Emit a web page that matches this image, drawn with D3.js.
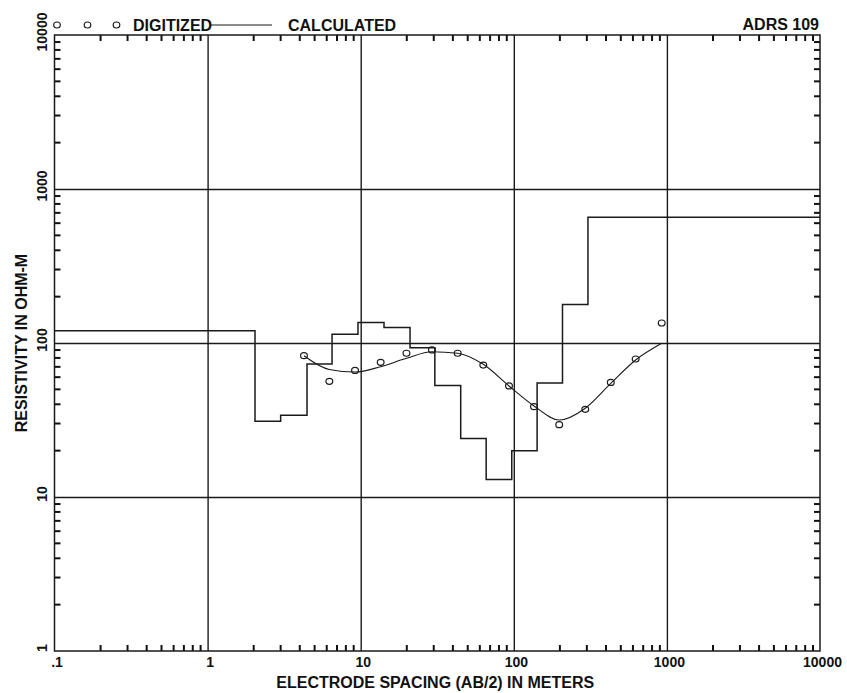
<!DOCTYPE html>
<html>
<head>
<meta charset="utf-8">
<script src="https://cdn.jsdelivr.net/npm/d3@7"></script>
<style>
  html, body { margin: 0; padding: 0; background: #fff; }
  svg { display: block; }
  text { font-family: "Liberation Sans", Arial, sans-serif; font-weight: bold; fill: #111; }
</style>
</head>
<body>
<svg id="chart" width="847" height="693"></svg>
<script>
// ---- Data ----
const xMajorTicks = [0.1, 1, 10, 100, 1000, 10000];
const xTickLabels = [".1", "1", "10", "100", "1000", "10000"];
const yMajorTicks = [1, 10, 100, 1000, 10000];
const yTickLabels = ["1", "10", "100", "1000", "10000"];
const minorMultipliers = [2, 3, 4, 5, 6, 7, 8, 9];

// layered model (step curve): layer boundaries (AB/2, m) and layer resistivities (ohm-m)
const layerBounds = [2.04, 3.0, 4.46, 6.5, 9.6, 14.2, 21, 30.5, 45, 66, 97, 142, 208, 305];
const layerRes = [120, 31, 34, 73, 114, 136, 126, 93, 53, 24, 13, 20, 55, 178, 655];

// sounding data
const spacing = [4.26, 6.24, 9.18, 13.5, 19.9, 29.2, 43.0, 63.2, 93.0, 135.5, 198, 293, 430, 625, 925];
const digitized = [82.7, 56.4, 66.4, 74.9, 85.8, 90.1, 85.8, 71.9, 52.6, 38.6, 29.5, 37.1, 55.5, 78.7, 134.9];
const calculated = [82.7, 67.3, 64.8, 70.2, 79.6, 87.8, 85.8, 72.7, 52.6, 39.0, 31.6, 37.7, 54.7, 77.6, 99.6];

const legendLabels = ["DIGITIZED", "CALCULATED"];
const titleText = "ADRS 109";
const xTitle = "ELECTRODE SPACING (AB/2) IN METERS";
const yTitle = "RESISTIVITY IN OHM-M";

// ---- Layout ----
const L = 54.5, R = 820, T = 35, B = 651;
const INK = "#1a1a1a";
const svg = d3.select("#chart");

const x = d3.scaleLog().domain([0.1, 10000]).range([L, R]);
const y = d3.scaleLog().domain([1, 10000]).range([B, T]);

const xMinor = [];
xMajorTicks.slice(0, -1).forEach(d => minorMultipliers.forEach(m => xMinor.push(d * m)));
const yMinor = [];
yMajorTicks.slice(0, -1).forEach(d => minorMultipliers.forEach(m => yMinor.push(d * m)));

function styleAxis(g) {
  g.select(".domain").remove();
  g.selectAll(".tick line").attr("stroke", INK).attr("stroke-width", 1.4);
  g.selectAll(".tick text").remove();
}

// gridlines (major)
svg.append("g").attr("transform", `translate(0,${B})`)
  .call(d3.axisBottom(x).tickValues(xMajorTicks.slice(1, -1)).tickSize(-(B - T)))
  .call(styleAxis);
svg.append("g").attr("transform", `translate(${L},0)`)
  .call(d3.axisLeft(y).tickValues(yMajorTicks.slice(1, -1)).tickSize(-(R - L)))
  .call(styleAxis);

// minor ticks, inward on all sides
const TK = 6;
const minorG = svg.append("g");
function addMinor(cls, data, fn) {
  minorG.selectAll("line." + cls).data(data).join("line").attr("class", cls)
    .each(function (d) {
      const c = fn(d);
      d3.select(this).attr("x1", c[0]).attr("y1", c[1]).attr("x2", c[2]).attr("y2", c[3]);
    })
    .style("stroke", "#111").style("stroke-width", "2px");
}
addMinor("xb", xMinor, d => [x(d), B, x(d), B - TK]);
addMinor("xt", xMinor, d => [x(d), T, x(d), T + TK]);
addMinor("yl", yMinor, d => [L, y(d), L + TK, y(d)]);
addMinor("yr", yMinor, d => [R, y(d), R - TK, y(d)]);

// frame
svg.append("rect").attr("x", L).attr("y", T).attr("width", R - L).attr("height", B - T)
  .attr("fill", "none").attr("stroke", INK).attr("stroke-width", 1.5);

// x tick labels
const xl = svg.append("g").attr("transform", `translate(0,${B})`)
  .call(d3.axisBottom(x).tickValues(xMajorTicks).tickSize(0).tickPadding(0)
    .tickFormat((d, i) => xTickLabels[i]));
xl.select(".domain").remove();
xl.selectAll("text").attr("y", 16).attr("dy", 0).attr("dx", 2)
  .attr("font-size", 14).attr("font-family", null).attr("fill", INK);

// y tick labels (rotated)
const yl = svg.append("g");
yl.selectAll("text").data(yMajorTicks).join("text")
  .attr("font-size", 14).attr("text-anchor", "middle")
  .text((d, i) => yTickLabels[i])
  .each(function (d) {
    const w = this.getComputedTextLength();
    const cy = Math.max(y(d) - 3, 7 + w / 2);
    d3.select(this).attr("transform", `translate(47,${cy}) rotate(-90)`);
  });

// axis titles
svg.append("text").attr("x", (L + R) / 2 - 2).attr("y", 688).attr("text-anchor", "middle")
  .attr("font-size", 16).text(xTitle);
svg.append("text").attr("transform", `translate(27,${(T + B) / 2}) rotate(-90)`)
  .attr("text-anchor", "middle").attr("font-size", 16).text(yTitle);

// title
svg.append("text").attr("x", 819).attr("y", 30).attr("text-anchor", "end")
  .attr("font-size", 16).text(titleText);

// legend
[57, 87.5, 116.5].forEach(cx => {
  svg.append("ellipse").attr("cx", cx).attr("cy", 25).attr("rx", 3.3).attr("ry", 3)
    .attr("fill", "none").attr("stroke", INK).attr("stroke-width", 1.2);
});
svg.append("text").attr("x", 133).attr("y", 31).attr("font-size", 16).text(legendLabels[0]);
svg.append("line").attr("x1", 211).attr("x2", 272).attr("y1", 25).attr("y2", 25)
  .attr("stroke", INK).attr("stroke-width", 1.2);
svg.append("text").attr("x", 288).attr("y", 31).attr("font-size", 16).text(legendLabels[1]);

// layered model step line
const stepPts = [[0.1, layerRes[0]]]
  .concat(layerBounds.map((b, i) => [b, layerRes[i + 1]]))
  .concat([[10000, layerRes[layerRes.length - 1]]]);
svg.append("path")
  .attr("d", d3.line().x(d => x(d[0])).y(d => y(d[1])).curve(d3.curveStepAfter)(stepPts))
  .attr("fill", "none").attr("stroke", INK).attr("stroke-width", 1.5);

// calculated curve
svg.append("path")
  .attr("d", d3.line().x((d, i) => x(spacing[i])).y(d => y(d)).curve(d3.curveMonotoneX)(calculated))
  .attr("fill", "none").attr("stroke", INK).attr("stroke-width", 1.1);

svg.append("g").selectAll("ellipse").data(digitized).join("ellipse")
  .attr("cx", (d, i) => x(spacing[i])).attr("cy", d => y(d))
  .attr("rx", 3.4).attr("ry", 3)
  .attr("fill", "none").attr("stroke", INK).attr("stroke-width", 1.2);
</script>
</body>
</html>
